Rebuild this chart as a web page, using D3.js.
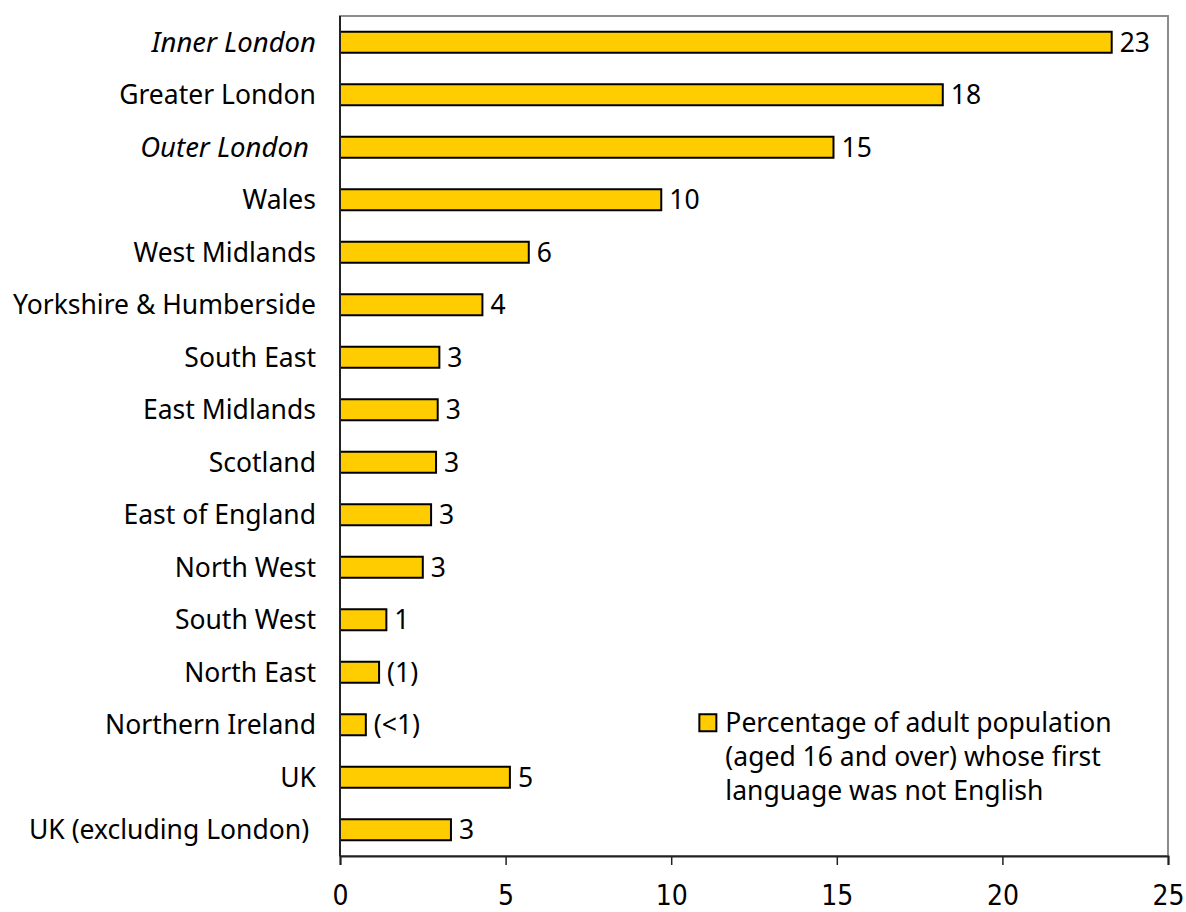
<!DOCTYPE html>
<html>
<head>
<meta charset="utf-8">
<script src="https://cdn.jsdelivr.net/npm/d3@7"></script>
<style>
  body { margin: 0; background: #fff; overflow: hidden; }
  text { font-family: "Noto Sans", "Open Sans", sans-serif; fill: #000; }
</style>
</head>
<body>
<div class="chart"></div>
<script>
// regions, top to bottom
const regions = ['Inner London', 'Greater London', 'Outer London ', 'Wales', 'West Midlands',
    'Yorkshire & Humberside', 'South East', 'East Midlands', 'Scotland', 'East of England',
    'North West', 'South West', 'North East', 'Northern Ireland', 'UK', 'UK (excluding London) '];
const italicRegions = ['Inner London', 'Outer London '];
// percentage of adult population whose first language was not English
const values = [23.3, 18.2, 14.9, 9.7, 5.7, 4.3, 3.0, 2.95, 2.9, 2.75, 2.5, 1.4, 1.18, 0.78, 5.13, 3.35];
const valueLabels = ['23', '18', '15', '10', '6', '4', '3', '3', '3', '3', '3', '1', '(1)', '(<1)', '5', '3'];
const xTicks = [0, 5, 10, 15, 20, 25];
const legendLines = ['Percentage of adult population', '(aged 16 and over) whose first', 'language was not English'];

const width = 1186, height = 912;
const margin = {top: 16, right: 18, bottom: 56, left: 340};
const barColor = '#ffcc00';

let svg = d3.select('.chart')
    .append('svg')
    .attr('width', width)
    .attr('height', height);

let x_scale = d3.scaleLinear()
    .domain([0, 25])
    .range([margin.left, width - margin.right]);
let y_scale = d3.scaleBand()
    .domain(regions)
    .range([margin.top, height - margin.bottom])
    .paddingInner(0.6)
    .paddingOuter(0.3);

// frame
svg.append('rect')
    .attr('x', margin.left)
    .attr('y', margin.top)
    .attr('width', x_scale(25) - x_scale(0))
    .attr('height', height - margin.bottom - margin.top)
    .attr('fill', 'none')
    .attr('stroke', '#8c8c8c')
    .attr('stroke-width', 2);

// bars
svg.append('g')
    .selectAll('rect')
    .data(regions)
    .join('rect')
    .attr('x', x_scale(0))
    .attr('y', d => y_scale(d))
    .attr('width', (d, i) => x_scale(values[i]) - x_scale(0))
    .attr('height', y_scale.bandwidth())
    .attr('fill', barColor)
    .attr('stroke', '#000')
    .attr('stroke-width', 2);

// value labels
svg.append('g')
    .selectAll('text')
    .data(regions)
    .join('text')
    .attr('x', (d, i) => x_scale(values[i]) + 8)
    .attr('y', d => y_scale(d) + y_scale.bandwidth() / 2)
    .attr('dy', '0.36em')
    .style('font-size', '26.5px')
    .text((d, i) => valueLabels[i]);

// category labels
svg.append('g')
    .selectAll('text')
    .data(regions)
    .join('text')
    .attr('x', margin.left - 24)
    .attr('y', d => y_scale(d) + y_scale.bandwidth() / 2)
    .attr('dy', '0.36em')
    .attr('text-anchor', 'end')
    .style('font-size', d => italicRegions.includes(d) ? '27.5px' : '26.5px')
    .style('white-space', 'pre')
    .style('font-style', d => italicRegions.includes(d) ? 'italic' : 'normal')
    .text(d => d);

// y axis line
svg.append('line')
    .attr('x1', margin.left).attr('x2', margin.left)
    .attr('y1', margin.top).attr('y2', height - margin.bottom)
    .attr('stroke', '#222').attr('stroke-width', 2);

// x axis
let x_Axis = d3.axisBottom()
    .scale(x_scale)
    .tickValues(xTicks)
    .tickSize(9)
    .tickPadding(0)
    .tickFormat(d => d);
let gx = svg.append('g')
    .attr('transform', `translate(0, ${height - margin.bottom})`)
    .call(x_Axis);
gx.select('.domain').attr('stroke', '#222').attr('stroke-width', 2);
gx.selectAll('.tick line').attr('stroke', '#222').attr('stroke-width', 1.5);
gx.selectAll('text')
    .attr('y', 49)
    .attr('dy', 0)
    .style('font-size', '28px')
    .style('font-weight', 'normal')
    .style('font-family', '"DejaVu Sans Condensed", "Liberation Sans Narrow", "Noto Sans", sans-serif')
    .style('font-stretch', 'condensed');

// legend
let legend = svg.append('g')
    .attr('transform', `translate(${x_scale(10.85)}, ${y_scale('Northern Ireland')})`);
legend.append('rect')
    .attr('x', 0).attr('y', 0)
    .attr('width', 17).attr('height', 17)
    .attr('fill', barColor)
    .attr('stroke', '#000')
    .attr('stroke-width', 2);
legend.selectAll('text')
    .data(legendLines)
    .join('text')
    .attr('x', 26)
    .attr('y', (d, i) => 18 + i * 34)
    .style('font-size', '26.5px')
    .text(d => d);
</script>
</body>
</html>
